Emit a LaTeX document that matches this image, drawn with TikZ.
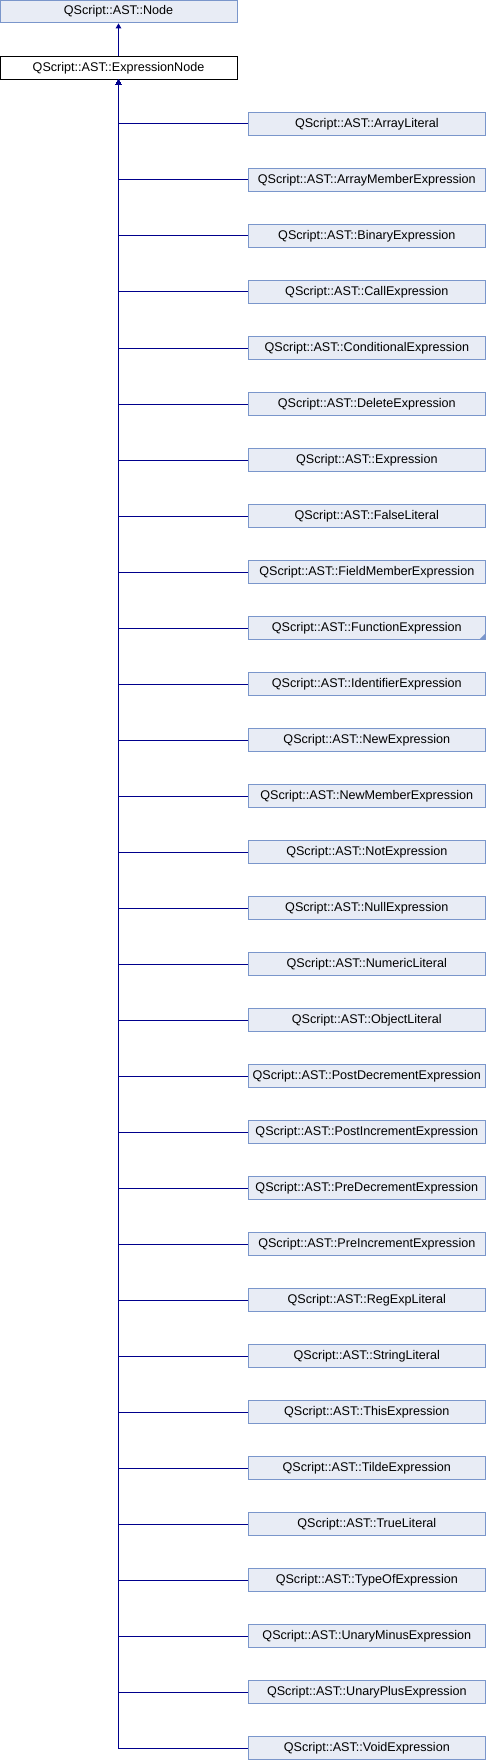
\documentclass[tikz,border=0pt]{standalone}
\usepackage{fontspec}
\setmainfont{Liberation Sans}
\usetikzlibrary{arrows.meta}
\definecolor{boxfill}{RGB}{232,236,245}
\definecolor{boxdraw}{RGB}{122,150,203}
\definecolor{edgecol}{RGB}{0,0,140}
\begin{document}
\begin{tikzpicture}[x=1pt,y=-1pt,
  cls/.style={draw=boxdraw,fill=boxfill,line width=0.9pt,minimum width=237pt,minimum height=22.5pt,inner sep=0pt,font=\fontsize{12.6}{14}\selectfont},
  cur/.style={draw=black,fill=white,line width=0.9pt,minimum width=237pt,minimum height=22.5pt,inner sep=0pt,font=\fontsize{12.6}{14}\selectfont},
  edge/.style={draw=edgecol,line width=1pt},
  inh/.style={edge,-{Triangle[length=5pt,width=5.5pt]}}]
\useasboundingbox (0,0) rectangle (486,1760);
\node[cls] (base) at (118.5,11.7) {QScript::AST::Node};
\node[cur] (en) at (118.5,68) {QScript::AST::ExpressionNode};
\draw[inh] (en.north) -- (base.south);
\foreach \n [count=\i from 0] in {ArrayLiteral,ArrayMemberExpression,BinaryExpression,CallExpression,ConditionalExpression,DeleteExpression,Expression,FalseLiteral,FieldMemberExpression,FunctionExpression,IdentifierExpression,NewExpression,NewMemberExpression,NotExpression,NullExpression,NumericLiteral,ObjectLiteral,PostDecrementExpression,PostIncrementExpression,PreDecrementExpression,PreIncrementExpression,RegExpLiteral,StringLiteral,ThisExpression,TildeExpression,TrueLiteral,TypeOfExpression,UnaryMinusExpression,UnaryPlusExpression,VoidExpression}{
  \node[cls] (c\i) at (366.8,{124+56*\i}) {QScript::AST::\n};
  \draw[inh] (c\i.west) -| (en.south);
}
\fill[boxdraw] (c9.south east) -- ([yshift=6.5pt]c9.south east) -- ([xshift=-6.5pt]c9.south east) -- cycle;
\end{tikzpicture}
\end{document}
